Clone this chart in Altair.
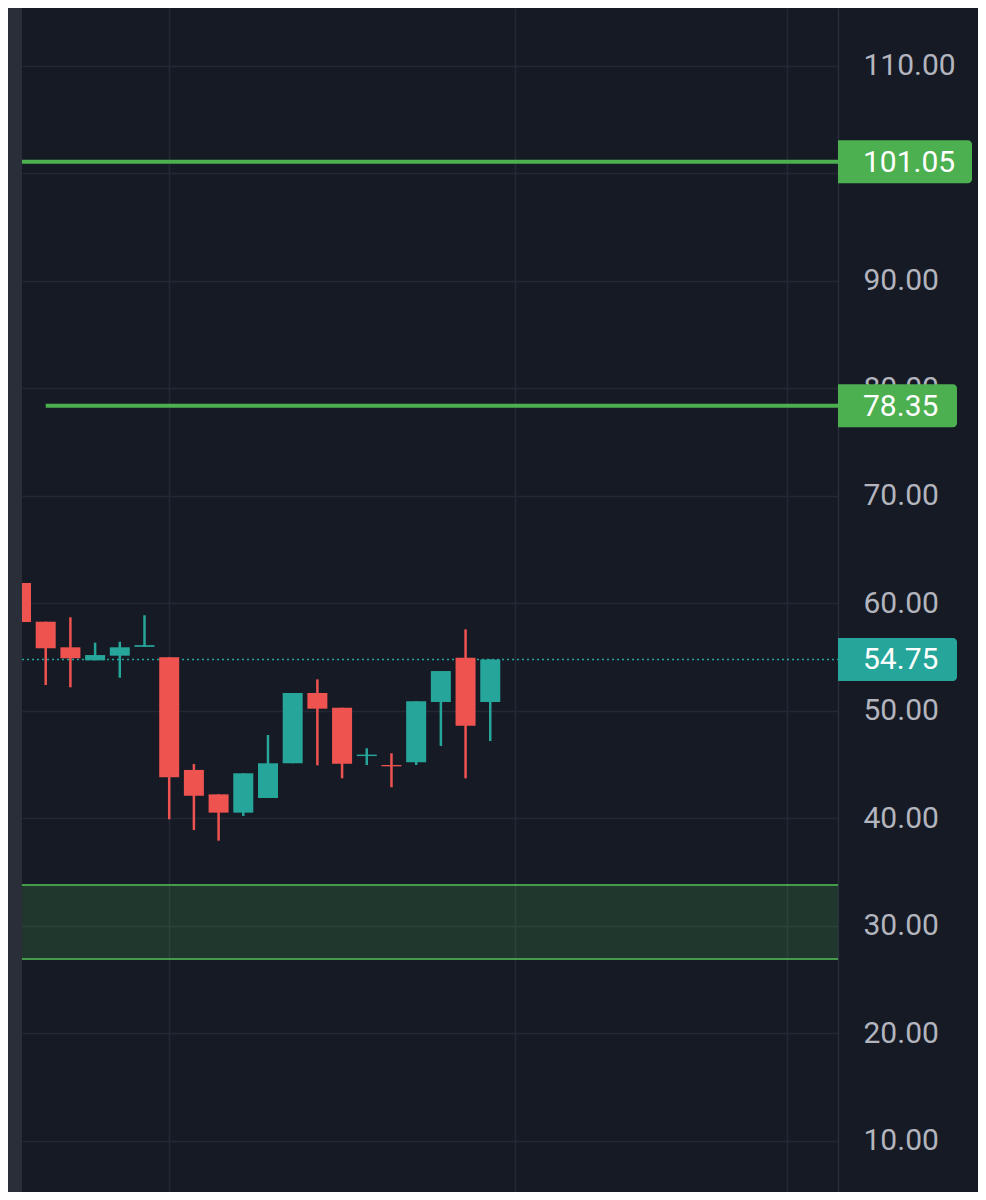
import altair as alt
import pandas as pd

# ---- data ----
idx   = list(range(20))
opens = [61.86, 58.26, 55.88, 54.67, 55.10, 55.92, 54.95, 44.47, 42.20, 40.50,
         41.86, 45.09, 51.63, 50.26, 45.76, 44.93, 45.18, 50.79, 54.91, 50.79]
highs = [61.86, 58.26, 58.67, 56.31, 56.40, 58.86, 54.95, 45.02, 42.20, 44.16,
         47.72, 51.63, 52.90, 50.26, 46.49, 46.02, 50.86, 53.67, 57.55, 54.75]
lows  = [58.23, 52.37, 52.16, 54.67, 53.05, 55.92, 39.88, 38.88, 37.89, 40.19,
         41.86, 45.09, 44.90, 43.69, 44.93, 42.86, 44.93, 46.70, 43.69, 47.16]
closes = [58.23, 55.79, 54.86, 55.16, 55.88, 56.08, 43.79, 42.07, 40.50, 44.16,
          45.09, 51.63, 50.17, 45.05, 45.90, 44.81, 50.86, 53.67, 48.59, 54.75]

level_values = [101.05, 78.35]
level_starts = [-1, 1]
last_price = [54.75]
zone_top = [33.77]
zone_bottom = [26.88]
y_ticks = [10, 20, 30, 40, 50, 60, 70, 80, 90, 100, 110]
x_grid = [6, 20, 31]

# ---- styles ----
BG = "#161a25"
GRID = "#242834"
UP = "#26a69a"
DOWN = "#ef5350"
GREEN = "#4caf50"
FONT = "Roboto"
W, H = 816, 1184

candles = pd.DataFrame({"i": idx, "open": opens, "high": highs, "low": lows, "close": closes})
levels = pd.DataFrame({"value": level_values, "start": level_starts})
last = pd.DataFrame({"value": last_price})
zone = pd.DataFrame({"top": zone_top, "bottom": zone_bottom})
zone_lines = pd.DataFrame({"value": zone_top + zone_bottom})
boxes = pd.DataFrame({
    "value": level_values + last_price,
    "label": [f"{v:.2f}" for v in level_values + last_price],
    "kind": ["level", "level", "last"],
})

xs = alt.Scale(domain=[0.04, 33.08], nice=False, zero=False, padding=0)
ys = alt.Scale(domain=[5.21, 115.35], nice=False, zero=False, padding=0)
x_axis = alt.Axis(values=x_grid, labels=False, ticks=False, domain=False, grid=True,
                  gridColor=GRID, gridWidth=1.5, title=None)
y_axis = alt.Axis(orient="right", values=y_ticks, format=".2f", grid=True, gridColor=GRID,
                  gridWidth=1.5, ticks=False, domain=True, domainColor="#2a2e39",
                  domainWidth=1.5, labelFont=FONT, labelFontSize=30, labelColor="#b2b5be",
                  labelPadding=25, title=None)

dir_color = alt.Color("dir:N", scale=alt.Scale(domain=["up", "down"], range=[UP, DOWN]), legend=None)

base = alt.Chart(candles).transform_calculate(
    dir="datum.close >= datum.open ? 'up' : 'down'"
)

wicks = base.mark_rule(strokeWidth=2.5, clip=True).encode(
    x=alt.X("i:Q", scale=xs, axis=x_axis),
    y=alt.Y("low:Q", scale=ys, axis=y_axis),
    y2="high:Q",
    color=dir_color,
)
bodies = base.mark_bar(size=20, clip=True).encode(
    x=alt.X("i:Q", scale=xs, axis=x_axis),
    y=alt.Y("open:Q", scale=ys, axis=y_axis),
    y2="close:Q",
    color=dir_color,
)

zone_rect = alt.Chart(zone).mark_rect(color=GREEN, opacity=0.2).encode(
    x=alt.value(0), x2=alt.value(W),
    y=alt.Y("top:Q", scale=ys, axis=y_axis), y2="bottom:Q",
)
zone_border = alt.Chart(zone_lines).mark_rule(color=GREEN, strokeWidth=2, opacity=0.85).encode(
    x=alt.value(0), x2=alt.value(W),
    y=alt.Y("value:Q", scale=ys, axis=y_axis),
)
level_rules = alt.Chart(levels).mark_rule(color=GREEN, strokeWidth=4, clip=True).encode(
    x=alt.X("start:Q", scale=xs, axis=x_axis), x2=alt.value(W),
    y=alt.Y("value:Q", scale=ys, axis=y_axis),
)
last_line = alt.Chart(last).mark_rule(color=UP, strokeWidth=1.5, strokeDash=[2, 3]).encode(
    x=alt.value(0), x2=alt.value(W),
    y=alt.Y("value:Q", scale=ys, axis=y_axis),
)

box_base = alt.Chart(boxes).transform_calculate(
    lo="datum.value - 2", hi="datum.value + 2"
)
box_level_wide = box_base.transform_filter(
    "datum.kind == 'level' && length(datum.label) > 5").mark_rect(
    color=GREEN, cornerRadiusTopRight=4, cornerRadiusBottomRight=4).encode(
    x=alt.value(W), x2=alt.value(W + 134),
    y=alt.Y("lo:Q", scale=ys, axis=y_axis), y2="hi:Q",
)
box_level_narrow = box_base.transform_filter(
    "datum.kind == 'level' && length(datum.label) <= 5").mark_rect(
    color=GREEN, cornerRadiusTopRight=4, cornerRadiusBottomRight=4).encode(
    x=alt.value(W), x2=alt.value(W + 119),
    y=alt.Y("lo:Q", scale=ys, axis=y_axis), y2="hi:Q",
)
box_last = box_base.transform_filter("datum.kind == 'last'").mark_rect(
    color=UP, cornerRadiusTopRight=4, cornerRadiusBottomRight=4).encode(
    x=alt.value(W), x2=alt.value(W + 119),
    y=alt.Y("lo:Q", scale=ys, axis=y_axis), y2="hi:Q",
)
box_text = alt.Chart(boxes).mark_text(
    align="left", baseline="middle", font=FONT, fontSize=30, color="#ffffff", dy=1
).encode(
    x=alt.value(W + 25),
    y=alt.Y("value:Q", scale=ys, axis=y_axis),
    text="label:N",
)

strip = alt.Chart(last).mark_rect(color="#2a2e39").encode(
    x=alt.value(-14), x2=alt.value(0), y=alt.value(0), y2=alt.value(H),
)

chart = alt.layer(
    zone_rect, zone_border, level_rules, last_line, wicks, bodies,
    box_level_wide, box_level_narrow, box_last, box_text, strip,
).properties(
    width=W, height=H,
    background=BG,
    autosize=alt.AutoSizeParams(type="none"),
    padding={"left": 14, "top": 0, "right": 140, "bottom": 0},
).configure_view(stroke=None, fill=BG)

chart.save("out.html", embed_options={"renderer": "svg", "actions": False})
